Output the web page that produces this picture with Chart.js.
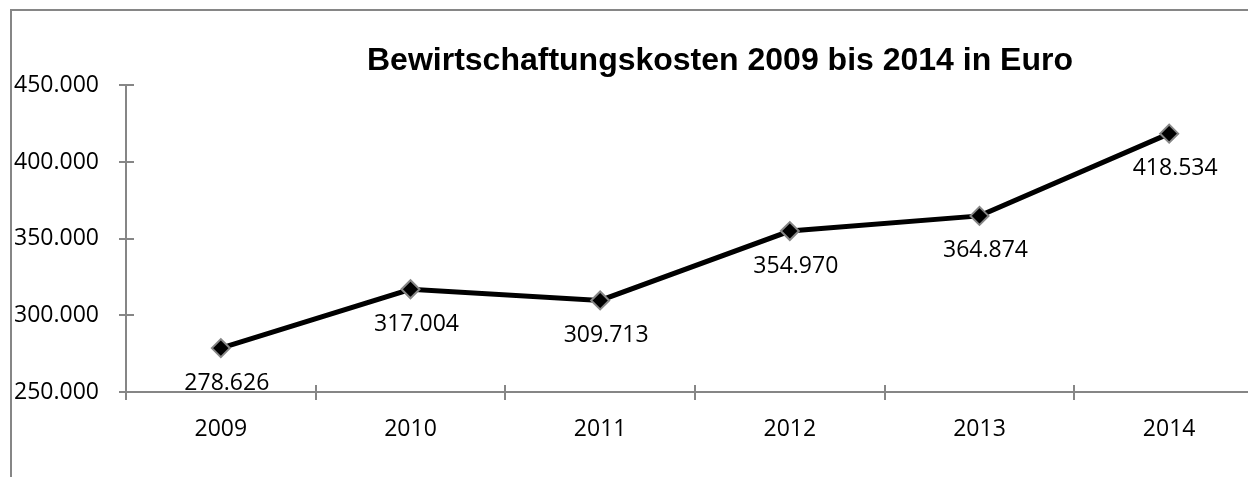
<!DOCTYPE html>
<html>
<head>
<meta charset="utf-8">
<script src="https://cdn.jsdelivr.net/npm/chart.js@4/dist/chart.umd.min.js"></script>
<style>
  html, body { margin: 0; padding: 0; background: #fff; overflow: hidden; }
  #wrap { width: 1426px; height: 477px; }
</style>
</head>
<body>
<div id="wrap"><canvas id="kosten"></canvas></div>
<script>
// Daten
const jahre = ['2009', '2010', '2011', '2012', '2013', '2014'];
const kosten = [278626, 317004, 309713, 354970, 364874, 418534];
const yTicks = [250000, 300000, 350000, 400000, 450000];

const grau = '#868686';
const schrift = "'Open Sans', 'Noto Sans', sans-serif";

// Zahl im deutschen Format: 278.626
const fmt = v => Math.round(v).toString().replace(/\B(?=(\d{3})+(?!\d))/g, '.');

// Rahmen links und oben
const rahmen = {
    id: 'rahmen',
    beforeDraw(chart) {
        const c = chart.ctx;
        c.save();
        c.strokeStyle = grau;
        c.lineWidth = 2;
        c.beginPath();
        c.moveTo(11, chart.height);
        c.lineTo(11, 10);
        c.lineTo(chart.width, 10);
        c.stroke();
        c.restore();
    }
};

// Innere Hälfte der Teilstriche (Excel-Stil: Striche kreuzen die Achse)
const kreuzStriche = {
    id: 'kreuzStriche',
    afterDraw(chart) {
        const c = chart.ctx, x = chart.scales.x, y = chart.scales.y;
        c.save();
        c.strokeStyle = grau;
        c.lineWidth = 2;
        c.beginPath();
        const schritt = (x.right - x.left) / jahre.length;
        for (let i = 0; i <= jahre.length; i++) {
            const px = Math.round(x.left + i * schritt);
            c.moveTo(px, y.bottom);
            c.lineTo(px, y.bottom - 7);
        }
        y.ticks.forEach(t => {
            const py = Math.round(y.getPixelForValue(t.value));
            c.moveTo(x.left, py);
            c.lineTo(x.left + 8, py);
        });
        c.stroke();
        c.restore();
    }
};

// Datenbeschriftungen unter den Punkten
const werte = {
    id: 'werte',
    afterDatasetsDraw(chart) {
        const c = chart.ctx;
        const meta = chart.getDatasetMeta(0);
        c.save();
        c.font = '23px ' + schrift;
        c.fillStyle = '#000';
        c.textAlign = 'center';
        c.textBaseline = 'middle';
        meta.data.forEach((pt, i) => {
            c.fillText(fmt(kosten[i]), pt.x + 6, pt.y + 35);
        });
        c.restore();
    }
};

new Chart(document.getElementById('kosten'), {
    type: 'line',
    data: {
        labels: jahre,
        datasets: [{
            data: kosten,
            borderColor: '#000',
            borderWidth: 5,
            pointStyle: 'rectRot',
            pointRadius: 9,
            pointBackgroundColor: '#000',
            pointBorderColor: grau,
            pointBorderWidth: 2,
            tension: 0
        }]
    },
    options: {
        responsive: true,
        maintainAspectRatio: false,
        animation: false,
        layout: { padding: { left: 14, top: 0, right: 0, bottom: 0 } },
        plugins: {
            legend: { display: false },
            tooltip: { enabled: false },
            title: {
                display: true,
                text: 'Bewirtschaftungskosten 2009 bis 2014 in Euro',
                color: '#000',
                font: { family: "'Liberation Sans', Arial, sans-serif", size: 32, weight: 'bold', lineHeight: 1.2 },
                padding: { top: 42, bottom: 5 }
            }
        },
        scales: {
            x: {
                offset: true,
                grid: { display: true, drawOnChartArea: false, offset: true, color: grau, lineWidth: 2, tickLength: 8 },
                border: { color: grau, width: 2 },
                ticks: { color: '#000', font: { family: schrift, size: 23 }, padding: 16, maxRotation: 0 },
                afterFit: s => { s.height = 85; }
            },
            y: {
                min: 250000,
                max: 450000,
                afterBuildTicks: s => { s.ticks = yTicks.map(v => ({ value: v })); },
                grid: { display: true, drawOnChartArea: false, color: grau, lineWidth: 2, tickLength: 7 },
                border: { color: grau, width: 2 },
                ticks: {
                    color: '#000',
                    font: { family: schrift, size: 23 },
                    crossAlign: 'far',
                    callback: v => fmt(v)
                },
                afterFit: s => { s.width = 112; }
            },
            // unsichtbare Achse rechts, damit die Zeichenfläche bei ~1264 px endet
            rechts: {
                position: 'right',
                display: true,
                grid: { display: false },
                border: { display: false },
                ticks: { display: false },
                afterFit: s => { s.width = 162; }
            }
        }
    },
    plugins: [rahmen, kreuzStriche, werte]
});
</script>
</body>
</html>
